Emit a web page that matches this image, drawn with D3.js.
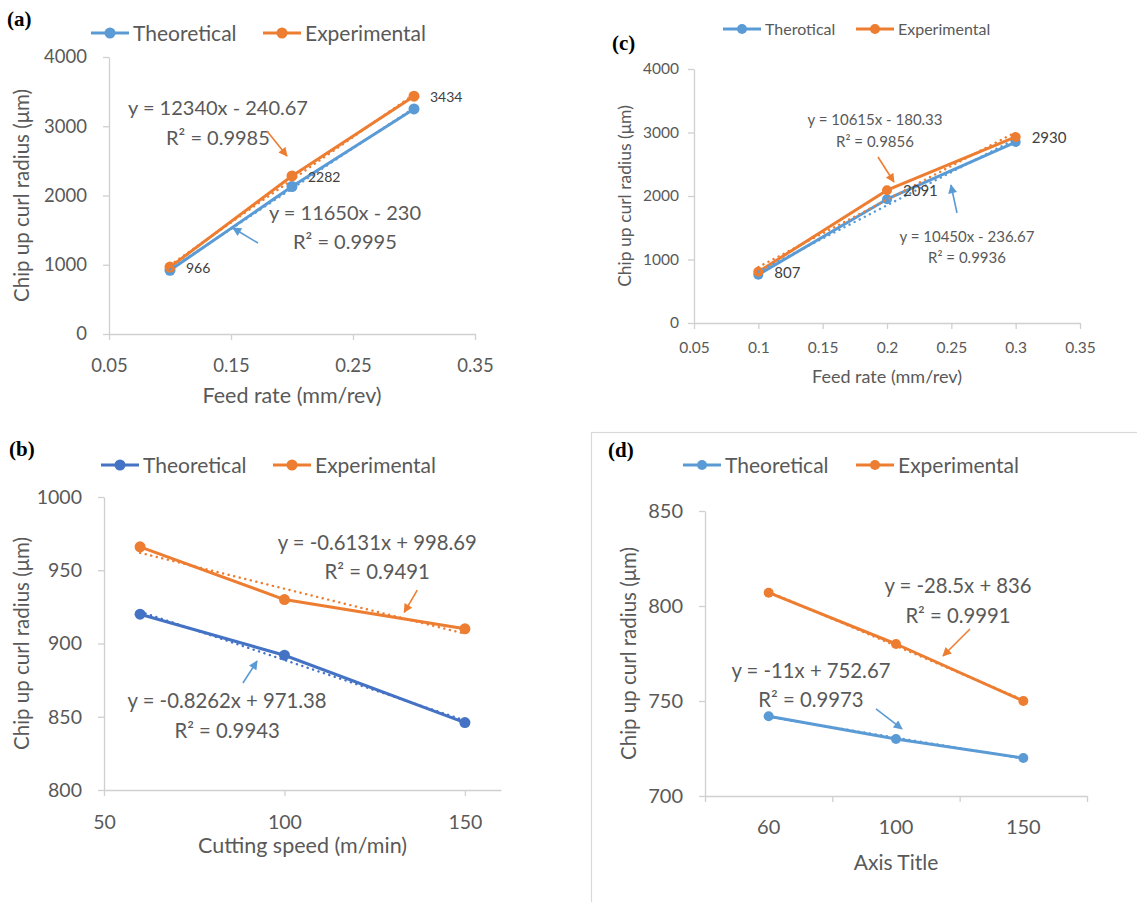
<!DOCTYPE html>
<html lang="en">
<head>
<meta charset="UTF-8">
<title>Chip up curl radius</title>
<script src="https://d3js.org/d3.v7.min.js"></script>
<style>
    body { margin: 0; background: #fff; }
    text { font-family: Lato, "Open Sans", sans-serif; fill: #595959; }
    .panel-label { font-family: "Liberation Serif", serif; font-weight: bold; fill: #000; }
    .axis path, .axis line { stroke: #d0d0d0; stroke-width: 1.3px; }
    .data-label { fill: #404040; }
</style>
</head>
<body>
<svg id="chart" width="1137" height="902"></svg>
<script>
    // ---- data ----
    const feedRates = [0.1, 0.2, 0.3];
    const speeds = [60, 100, 150];
    const speedCats = ["60", "100", "150"];

    // (a) feed rate
    const aTheo = [920, 2130, 3250];
    const aExp = [966, 2282, 3434];
    const aTheoFit = [11650, -230];
    const aExpFit = [12340, -240.67];
    const aXTicks = [0.05, 0.15, 0.25, 0.35];
    const aYTicks = [0, 1000, 2000, 3000, 4000];

    // (c) feed rate
    const cTheo = [760, 1950, 2850];
    const cExp = [807, 2091, 2930];
    const cTheoFit = [10450, -236.67];
    const cExpFit = [10615, -180.33];
    const cXTicks = [0.05, 0.1, 0.15, 0.2, 0.25, 0.3, 0.35];
    const cYTicks = [0, 1000, 2000, 3000, 4000];

    // (b) cutting speed
    const bTheo = [920, 892, 846];
    const bExp = [966, 930, 910];
    const bTheoFit = [-0.8262, 971.38];
    const bExpFit = [-0.6131, 998.69];
    const bXTicks = [50, 100, 150];
    const bYTicks = [800, 850, 900, 950, 1000];

    // (d) cutting speed (category axis, trend on index 1..3)
    const dTheo = [742, 730, 720];
    const dExp = [807, 780, 750];
    const dTheoFit = [-11, 752.67];
    const dExpFit = [-28.5, 836];
    const dYTicks = [700, 750, 800, 850];

    const blue = "#5B9BD5";
    const darkBlue = "#4472C4";
    const orange = "#ED7D31";

    const svg = d3.select("#chart");

    const defs = svg.append("defs");
    [["arrowBlue", blue], ["arrowOrange", orange]].forEach(([id, c]) => {
        defs.append("marker")
            .attr("id", id)
            .attr("viewBox", "0 0 10 10")
            .attr("refX", 9).attr("refY", 5)
            .attr("markerWidth", 10).attr("markerHeight", 9)
            .attr("markerUnits", "userSpaceOnUse")
            .attr("orient", "auto")
            .append("path")
            .attr("d", "M0,0L10,5L0,10Z")
            .attr("fill", c);
    });

    function drawPanel(p) {
        const g = svg.append("g");
        const x = p.x, y = p.y;
        const x0 = x.range()[0], y0 = y.range()[0];

        // y axis
        const ya = g.append("g").attr("class", "axis")
            .attr("transform", `translate(${x0},0)`)
            .call(d3.axisLeft(y).tickValues(p.yTicks).tickSize(6).tickSizeOuter(0)
                .tickPadding(p.yPad).tickFormat(d3.format("d")));
        ya.selectAll("text").style("font-size", p.tickFont + "px").attr("fill", "#595959");

        // x axis
        const xa = g.append("g").attr("class", "axis")
            .attr("transform", `translate(0,${y0})`)
            .call(d3.axisBottom(x).tickValues(p.xTicks).tickSize(6).tickSizeOuter(0)
                .tickFormat(p.xLabels ? "" : (d => String(d))));
        xa.selectAll("text").style("font-size", p.tickFont + "px").attr("fill", "#595959")
            .attr("y", p.xLabY).attr("dy", 0);
        if (p.xLabels) {
            g.selectAll(".catlab").data(p.xLabels).enter().append("text")
                .attr("x", (d, i) => x(i + 1)).attr("y", y0 + p.xLabY)
                .attr("text-anchor", "middle")
                .style("font-size", p.tickFont + "px")
                .text(d => d);
        }

        // axis titles
        g.append("text")
            .attr("x", (x.range()[0] + x.range()[1]) / 2).attr("y", p.xTitleY)
            .attr("text-anchor", "middle").style("font-size", p.titleFont + "px")
            .text(p.xTitle);
        g.append("text")
            .attr("transform", `translate(${p.yTitleX},${(y.range()[0] + y.range()[1]) / 2}) rotate(-90)`)
            .attr("text-anchor", "middle").style("font-size", p.yTitleFont + "px")
            .text("Chip up curl radius (μm)");

        // series lines + markers
        const line = d3.line().x(d => x(d[0])).y(d => y(d[1]));
        p.series.forEach(s => {
            const pts = p.xs.map((v, i) => [v, s.values[i]]);
            g.append("path").datum(pts)
                .attr("d", line).attr("fill", "none")
                .attr("stroke", s.color).attr("stroke-width", 3)
                .attr("stroke-linejoin", "round");
            g.selectAll(null).data(pts).enter().append("circle")
                .attr("cx", d => x(d[0])).attr("cy", d => y(d[1]))
                .attr("r", p.markerR).attr("fill", s.color);
        });

        // linear trend lines (dotted), across the data range
        p.series.forEach(s => {
            const xe = d3.extent(p.xs);
            const pts = xe.map(v => [v, s.fit[0] * v + s.fit[1]]);
            g.append("path").datum(pts)
                .attr("d", line).attr("fill", "none")
                .attr("stroke", s.color).attr("stroke-width", 2.4)
                .attr("stroke-linecap", "round")
                .attr("stroke-dasharray", "0.1,5.6");
        });

        // data labels (experimental)
        if (p.dataLabels) {
            const s = p.series[1];
            g.selectAll(null).data(p.xs).enter().append("text")
                .attr("class", "data-label")
                .attr("x", d => x(d) + 16)
                .attr("y", (d, i) => y(s.values[i]) + 6)
                .style("font-size", p.labelFont + "px")
                .text((d, i) => s.values[i]);
        }

        // equation annotations
        p.series.forEach(s => {
            const a = s.eq;
            const t = g.append("text")
                .attr("text-anchor", "middle")
                .style("font-size", p.eqFont + "px");
            t.append("tspan").attr("x", x(a.at[0])).attr("y", y(a.at[1])).text(a.lines[0]);
            t.append("tspan").attr("x", x(a.at[0])).attr("dy", a.lh).text(a.lines[1]);
            g.append("line")
                .attr("x1", x(a.arrow[0])).attr("y1", y(a.arrow[1]))
                .attr("x2", x(a.arrow[2])).attr("y2", y(a.arrow[3]))
                .attr("stroke", s.arrowColor).attr("stroke-width", 1.6)
                .attr("marker-end", `url(#${s.arrowColor === orange ? "arrowOrange" : "arrowBlue"})`);
        });

        // legend
        p.legend.forEach((it, i) => {
            const s = p.series[i];
            g.append("line")
                .attr("x1", it.x).attr("x2", it.x + 38)
                .attr("y1", p.legendY).attr("y2", p.legendY)
                .attr("stroke", s.color).attr("stroke-width", 3);
            g.append("circle").attr("cx", it.x + 19).attr("cy", p.legendY)
                .attr("r", p.markerR).attr("fill", s.color);
            g.append("text")
                .attr("x", it.x + 42).attr("y", p.legendY + p.legendDy)
                .style("font-size", p.legendFont + "px")
                .text(it.name);
        });

        // panel label
        svg.append("text").attr("class", "panel-label")
            .attr("x", p.label[1]).attr("y", p.label[2])
            .style("font-size", "21px")
            .text(p.label[0]);
    }

    // (d) frame
    svg.append("rect")
        .attr("x", 591.5).attr("y", 432.5)
        .attr("width", 600).attr("height", 500)
        .attr("fill", "none").attr("stroke", "#d9d9d9").attr("stroke-width", 1.2);

    // ---- panel (a) ----
    drawPanel({
        x: d3.scaleLinear().domain([0.05, 0.35]).range([109, 475]),
        y: d3.scaleLinear().domain([0, 4000]).range([334, 57]),
        xs: feedRates, xTicks: aXTicks, yTicks: aYTicks,
        yPad: 16, xLabY: 38, tickFont: 18.5,
        xTitle: "Feed rate (mm/rev)", xTitleY: 403, yTitleX: 29, titleFont: 21.5, yTitleFont: 20.5,
        markerR: 5.5, dataLabels: true, labelFont: 14, eqFont: 20,
        series: [
            { values: aTheo, color: blue, fit: aTheoFit, arrowColor: blue,
              eq: { lines: ["y = 11650x - 230", "R² = 0.9995"], at: [0.2434, 1646], lh: 29,
                    arrow: [0.1721, 1314, 0.1516, 1531] } },
            { values: aExp, color: orange, fit: aExpFit, arrowColor: orange,
              eq: { lines: ["y = 12340x - 240.67", "R² = 0.9985"], at: [0.1393, 3162], lh: 30,
                    arrow: [0.1795, 2931, 0.1959, 2570] } }
        ],
        legend: [{ x: 91, name: "Theoretical" }, { x: 263, name: "Experimental" }],
        legendY: 33, legendDy: 8, legendFont: 21,
        label: ["(a)", 7, 26]
    });

    // ---- panel (c) ----
    drawPanel({
        x: d3.scaleLinear().domain([0.05, 0.35]).range([694, 1080]),
        y: d3.scaleLinear().domain([0, 4000]).range([323, 69]),
        xs: feedRates, xTicks: cXTicks, yTicks: cYTicks,
        yPad: 9, xLabY: 30, tickFont: 15.5,
        xTitle: "Feed rate (mm/rev)", xTitleY: 383, yTitleX: 631, titleFont: 18, yTitleFont: 17.5,
        markerR: 5, dataLabels: true, labelFont: 15, eqFont: 15,
        series: [
            { values: cTheo, color: blue, fit: cTheoFit, arrowColor: blue,
              eq: { lines: ["y = 10450x - 236.67", "R² = 0.9936"], at: [0.2622, 1276], lh: 21,
                    arrow: [0.2544, 1732, 0.2497, 2173] } },
            { values: cExp, color: orange, fit: cExpFit, arrowColor: orange,
              eq: { lines: ["y = 10615x - 180.33", "R² = 0.9856"], at: [0.1907, 3118], lh: 22,
                    arrow: [0.193, 2614, 0.2054, 2220] } }
        ],
        legend: [{ x: 723, name: "Therotical" }, { x: 856, name: "Experimental" }],
        legendY: 29, legendDy: 6, legendFont: 16,
        label: ["(c)", 612, 50]
    });

    // ---- panel (b) ----
    drawPanel({
        x: d3.scaleLinear().domain([50, 160]).range([104, 501]),
        y: d3.scaleLinear().domain([800, 1000]).range([790, 497]),
        xs: speeds, xTicks: bXTicks, yTicks: bYTicks,
        yPad: 16, xLabY: 39, tickFont: 19.5,
        xTitle: "Cutting speed (m/min)", xTitleY: 853, yTitleX: 29, titleFont: 21.5, yTitleFont: 20.5,
        markerR: 5.5, dataLabels: false, eqFont: 20.3,
        series: [
            { values: bTheo, color: darkBlue, fit: bTheoFit, arrowColor: blue,
              eq: { lines: ["y = -0.8262x + 971.38", "R² = 0.9943"], at: [84.1, 855.9], lh: 30,
                    arrow: [88.5, 873, 92.4, 888] } },
            { values: bExp, color: orange, fit: bExpFit, arrowColor: orange,
              eq: { lines: ["y = -0.6131x + 998.69", "R² = 0.9491"], at: [125.7, 963.7], lh: 29,
                    arrow: [136.8, 936.4, 133.2, 921.3] } }
        ],
        legend: [{ x: 101, name: "Theoretical" }, { x: 273, name: "Experimental" }],
        legendY: 465, legendDy: 8, legendFont: 21,
        label: ["(b)", 9, 456]
    });

    // ---- panel (d) ----
    drawPanel({
        x: d3.scaleLinear().domain([0.5, 3.5]).range([705, 1087]),
        y: d3.scaleLinear().domain([700, 850]).range([796, 511]),
        xs: [1, 2, 3], xTicks: [0.5, 1.5, 2.5, 3.5], xLabels: speedCats, yTicks: dYTicks,
        yPad: 16, xLabY: 38, tickFont: 20,
        xTitle: "Axis Title", xTitleY: 870, yTitleX: 636, titleFont: 21, yTitleFont: 20.5,
        markerR: 5, dataLabels: false, eqFont: 20.3,
        series: [
            { values: dTheo, color: blue, fit: dTheoFit, arrowColor: blue,
              eq: { lines: ["y = -11x + 752.67", "R² = 0.9973"], at: [1.332, 762.1], lh: 29,
                    arrow: [1.843, 745.8, 2.047, 735.3] } },
            { values: dExp, color: orange, fit: dExpFit, arrowColor: orange,
              eq: { lines: ["y = -28.5x + 836", "R² = 0.9991"], at: [2.487, 806.8], lh: 30,
                    arrow: [2.581, 787.9, 2.369, 773.7] } }
        ],
        legend: [{ x: 683, name: "Theoretical" }, { x: 856, name: "Experimental" }],
        legendY: 465, legendDy: 8, legendFont: 21,
        label: ["(d)", 608, 457]
    });
</script>
</body>
</html>
